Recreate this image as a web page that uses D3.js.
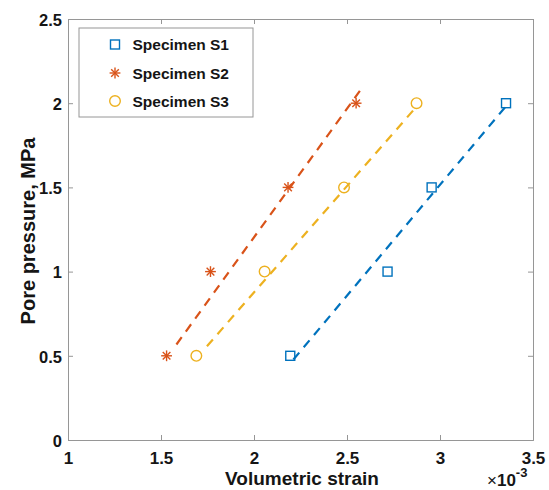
<!DOCTYPE html>
<html>
<head>
<meta charset="utf-8">
<script src="https://cdn.jsdelivr.net/npm/d3@7"></script>
<style>
  html, body { margin: 0; padding: 0; background: #fff; }
  svg { display: block; font-family: "Liberation Sans", Arial, sans-serif; }
</style>
</head>
<body>
<svg id="chart" width="549" height="490"></svg>
<script>
// Pore pressure levels (MPa) used in every test
const porePressure = [0.5, 1.0, 1.5, 2.0];

// Volumetric strain (×10^-3) measured for each specimen
const strainS1 = [2.195, 2.718, 2.955, 3.355];
const strainS2 = [1.530, 1.766, 2.183, 2.549];
const strainS3 = [1.690, 2.057, 2.484, 2.874];

// Linear fit segments: [strain, pressure] at both ends
const fitS1 = [[2.212, 0.478], [3.362, 1.992]];
const fitS2 = [[1.583, 0.567], [2.575, 2.082]];
const fitS3 = [[1.747, 0.557], [2.874, 1.980]];

const seriesNames = ["Specimen S1", "Specimen S2", "Specimen S3"];
const seriesColors = ["#0072BD", "#D95319", "#EDB120"];
const seriesMarkers = ["square", "asterisk", "circle"];

const xTicks = [1, 1.5, 2, 2.5, 3, 3.5];
const yTicks = [0, 0.5, 1, 1.5, 2, 2.5];

const series = [
  { name: seriesNames[0], x: strainS1, fit: fitS1, color: seriesColors[0], marker: seriesMarkers[0] },
  { name: seriesNames[1], x: strainS2, fit: fitS2, color: seriesColors[1], marker: seriesMarkers[1] },
  { name: seriesNames[2], x: strainS3, fit: fitS3, color: seriesColors[2], marker: seriesMarkers[2] }
];

const svg = d3.select("#chart");
const m = { left: 68, right: 533, top: 19, bottom: 440 };

const x = d3.scaleLinear().domain([1, 3.5]).range([m.left, m.right]);
const y = d3.scaleLinear().domain([0, 2.5]).range([m.bottom, m.top]);

const frameColor = "#969696";
const textColor = "#151515";
const tickFmt = d => d3.format("")(d);

// Axes with inward ticks on all four sides
const axB = svg.append("g").attr("transform", `translate(0,${m.bottom})`)
  .call(d3.axisBottom(x).tickValues(xTicks).tickSize(-5).tickFormat(tickFmt));
const axT = svg.append("g").attr("transform", `translate(0,${m.top})`)
  .call(d3.axisTop(x).tickValues(xTicks).tickSize(-5).tickFormat(""));
const axL = svg.append("g").attr("transform", `translate(${m.left},0)`)
  .call(d3.axisLeft(y).tickValues(yTicks).tickSize(-5).tickFormat(tickFmt));
const axR = svg.append("g").attr("transform", `translate(${m.right},0)`)
  .call(d3.axisRight(y).tickValues(yTicks).tickSize(-5).tickFormat(""));

[axB, axT, axL, axR].forEach(g => {
  g.select(".domain").attr("stroke", frameColor).attr("stroke-width", 1);
  g.selectAll(".tick line").attr("stroke", frameColor);
  g.selectAll(".tick text")
    .attr("fill", textColor)
    .attr("font-weight", "bold")
    .attr("font-family", "Liberation Sans, Arial, sans-serif");
});
axB.selectAll(".tick text").attr("font-size", 17).attr("y", 24).attr("dy", 0);
axL.selectAll(".tick text").attr("font-size", 16.5).attr("x", -6).attr("dy", "0.38em");

// Axis titles
svg.append("text")
  .attr("x", 302).attr("y", 485)
  .attr("text-anchor", "middle")
  .attr("font-size", 19).attr("font-weight", "bold").attr("fill", textColor)
  .text("Volumetric strain");

svg.append("text")
  .attr("transform", `translate(34.5,231) rotate(-90)`)
  .attr("text-anchor", "middle")
  .attr("font-size", 20).attr("font-weight", "bold").attr("fill", textColor)
  .text("Pore pressure, MPa");

// Exponent label for the strain axis
const expo = svg.append("text")
  .attr("x", 487).attr("y", 486)
  .attr("font-size", 17).attr("font-weight", "bold").attr("fill", textColor);
expo.append("tspan").attr("font-weight", "normal").text("×");
expo.append("tspan").text("10");
expo.append("tspan").attr("dy", -9).attr("font-size", 13).text("-3");

// Marker drawing helper
function drawMarker(g, type, cx, cy, color) {
  if (type === "square") {
    g.append("rect").attr("x", cx - 4.5).attr("y", cy - 4.5)
      .attr("width", 9).attr("height", 9)
      .attr("fill", "none").attr("stroke", color).attr("stroke-width", 1.4);
  } else if (type === "circle") {
    g.append("circle").attr("cx", cx).attr("cy", cy).attr("r", 5.3)
      .attr("fill", "none").attr("stroke", color).attr("stroke-width", 1.4);
  } else {
    const r = 5.4;
    [0, 45, 90, 135].forEach(a => {
      const rad = a * Math.PI / 180;
      g.append("line")
        .attr("x1", cx - r * Math.cos(rad)).attr("y1", cy - r * Math.sin(rad))
        .attr("x2", cx + r * Math.cos(rad)).attr("y2", cy + r * Math.sin(rad))
        .attr("stroke", color).attr("stroke-width", 1.4);
    });
  }
}

const plot = svg.append("g");
const line = d3.line().x(d => x(d[0])).y(d => y(d[1]));

// Dashed fit lines
series.forEach(s => {
  plot.append("path").datum(s.fit)
    .attr("d", line)
    .attr("fill", "none")
    .attr("stroke", s.color)
    .attr("stroke-width", 2.2)
    .attr("stroke-dasharray", "9,7");
});

// Measured points
series.forEach(s => {
  const g = plot.append("g");
  s.x.forEach((v, i) => drawMarker(g, s.marker, x(v), y(porePressure[i]), s.color));
});

// Legend
const lg = svg.append("g");
lg.append("rect").attr("x", 79).attr("y", 28).attr("width", 174).attr("height", 89)
  .attr("fill", "#fff").attr("stroke", frameColor).attr("stroke-width", 1);
const rowY = [44.5, 73, 101];
series.forEach((s, i) => {
  drawMarker(lg, s.marker, 115, rowY[i], s.color);
  lg.append("text").attr("x", 132.5).attr("y", rowY[i]).attr("dy", "0.36em")
    .attr("font-size", 15.5).attr("font-weight", "bold").attr("fill", textColor)
    .text(s.name);
});
</script>
</body>
</html>
